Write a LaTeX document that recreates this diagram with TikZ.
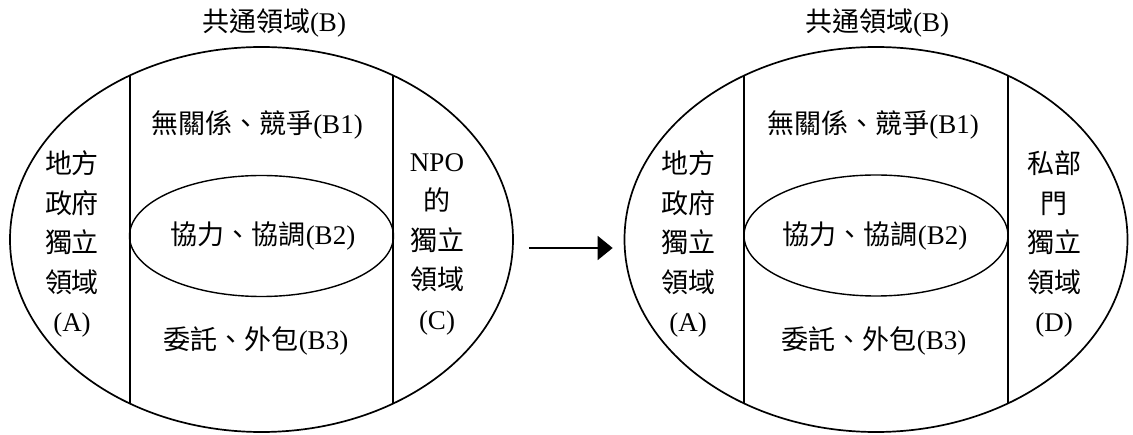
\documentclass[tikz,border=0pt]{standalone}
\usepackage{fontspec}
\setmainfont{Liberation Serif}
\newfontfamily\cjk{Noto Sans CJK TC}
\usetikzlibrary{shapes.geometric,arrows.meta}
\tikzset{
  outer/.style={ellipse,draw,line width=1.7pt,minimum width=503pt,minimum height=385pt,inner sep=0pt},
  inner/.style={ellipse,draw,line width=1.4pt,minimum width=264pt,minimum height=121pt,inner sep=0pt},
  divider/.style={line width=1.4pt},
  lbl/.style={font=\fontsize{27}{39.5}\selectfont,inner sep=0pt,align=center},
  flow/.style={line width=1.8pt,-{Triangle[length=15pt,width=24pt]}}
}
\begin{document}
\begin{tikzpicture}[x=1pt,y=-1pt]
\useasboundingbox (0,0) rectangle (1133,435);
% left diagram
\node[outer] (L) at (261.5,239.5) {};
\begin{scope}
  \clip (261.5,239.5) ellipse [x radius=251.5pt,y radius=192.5pt];
  \draw[divider] (130,0) -- (130,435);
  \draw[divider] (393,0) -- (393,435);
\end{scope}
\node[inner] (L2) at (261.5,236) {};
\node[lbl] (Lt) at (274,22.5) {{\cjk 共通領域}(B)};
\node[lbl] (L1) at (257,125) {{\cjk 無關係、競爭}(B1)};
\node[lbl] (Lb2) at (263,236) {{\cjk 協力、協調}(B2)};
\node[lbl] (L3) at (256,341) {{\cjk 委託、外包}(B3)};
\node[lbl] (LA) at (72,244) {{\cjk 地方}\\{\cjk 政府}\\{\cjk 獨立}\\{\cjk 領域}\\(A)};
\node[lbl] (LC) at (437,244) {NPO\\{\cjk 的}\\{\cjk 獨立}\\{\cjk 領域}\\(C)};
% right diagram
\node[outer] (R) at (876,239.5) {};
\begin{scope}
  \clip (876,239.5) ellipse [x radius=251.5pt,y radius=192.5pt];
  \draw[divider] (744,0) -- (744,435);
  \draw[divider] (1008,0) -- (1008,435);
\end{scope}
\node[inner] (R2) at (876,235.5) {};
\node[lbl] (Rt) at (877,22.5) {{\cjk 共通領域}(B)};
\node[lbl] (R1) at (873,125) {{\cjk 無關係、競爭}(B1)};
\node[lbl] (Rb2) at (875,236) {{\cjk 協力、協調}(B2)};
\node[lbl] (R3) at (874,341) {{\cjk 委託、外包}(B3)};
\node[lbl] (RA) at (688,244) {{\cjk 地方}\\{\cjk 政府}\\{\cjk 獨立}\\{\cjk 領域}\\(A)};
\node[lbl] (RD) at (1054,244) {{\cjk 私部}\\{\cjk 門}\\{\cjk 獨立}\\{\cjk 領域}\\(D)};
% arrow
\draw[flow] ([xshift=15pt,yshift=-8.5pt]L.east) -- ([xshift=-11pt,yshift=-8.5pt]R.west);
\end{tikzpicture}
\end{document}
